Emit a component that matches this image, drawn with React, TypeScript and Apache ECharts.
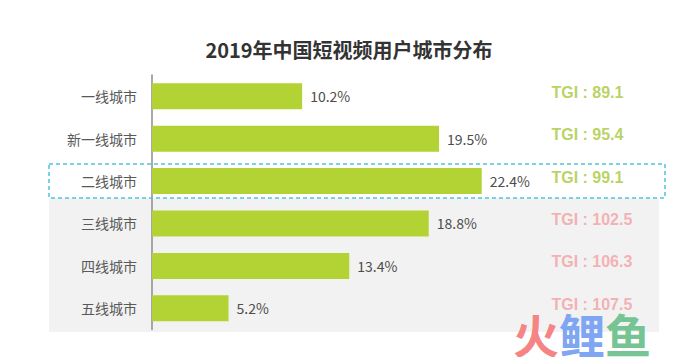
import React, { useEffect, useRef } from "react";
import * as echarts from "echarts";

const categories: string[] = ["一线城市", "新一线城市", "二线城市", "三线城市", "四线城市", "五线城市"];
const shares: number[] = [10.2, 19.5, 22.4, 18.8, 13.4, 5.2];
const tgiValues: number[] = [89.1, 95.4, 99.1, 102.5, 106.3, 107.5];
const titleText = "2019年中国短视频用户城市分布";

const FONT = '"Microsoft YaHei", "Noto Sans CJK SC", "Noto Sans", sans-serif';
const BAR = "#b3d334";
const TGI_GREEN = "#a6c73a";
const TGI_PINK = "#f2a0a4";

export default function App() {
  const ref = useRef<HTMLDivElement>(null);
  useEffect(() => {
    if (!ref.current) return;
    const chart = echarts.init(ref.current, null, { renderer: "svg" });
    const option: any = {
      animation: false,
      backgroundColor: "#ffffff",
      textStyle: { fontFamily: FONT },
      grid: { left: 152, top: 75, width: 441.6, height: 254.5, containLabel: false },
      xAxis: {
        type: "value",
        min: 0,
        max: 30,
        show: false,
        splitLine: { show: false },
      },
      yAxis: {
        type: "category",
        data: categories,
        inverse: true,
        axisLine: { show: true, lineStyle: { color: "#8c8c8c", width: 1.5 } },
        axisTick: { show: false },
        axisLabel: { fontSize: 14, color: "#595959", margin: 15, fontFamily: FONT },
        splitLine: { show: false },
      },
      graphic: [
        {
          type: "rect",
          z: -10,
          shape: { x: 49, y: 198, width: 610, height: 134 },
          style: { fill: "#f2f2f2" },
        },
        {
          type: "rect",
          z: 10,
          shape: { x: 49, y: 164, width: 616, height: 34 },
          style: { fill: "none", stroke: "#4fc3dc", lineWidth: 1.5, lineDash: [4, 3] },
        },
        {
          type: "text",
          style: {
            text: titleText,
            x: 349,
            y: 49,
            textAlign: "center",
            textVerticalAlign: "middle",
            fontSize: 20,
            fontWeight: "bold",
            fill: "#333333",
            fontFamily: FONT,
          },
        },
        {
          type: "text",
          z: 20,
          style: {
            text: "{a|火}{b|鲤}{c|鱼}",
            x: 513,
            y: 333,
            textVerticalAlign: "middle",
            fontFamily: FONT,
            rich: {
              a: { fontSize: 46, lineHeight: 40, fontWeight: "bold", fill: "#f58585", fontFamily: FONT },
              b: { fontSize: 46, lineHeight: 40, fontWeight: "bold", fill: "#7fa6f2", fontFamily: FONT },
              c: { fontSize: 46, lineHeight: 40, fontWeight: "bold", fill: "#76c493", fontFamily: FONT },
            },
          },
        },
      ],
      series: [
        {
          type: "bar",
          data: shares,
          barWidth: 26,
          itemStyle: { color: BAR },
          label: {
            show: true,
            position: "right",
            distance: 8,
            formatter: (p: any) => `${p.value}%`,
            fontSize: 14,
            color: "#4d4d4d",
            fontFamily: FONT,
          },
        },
        {
          type: "scatter",
          data: tgiValues.map((v, i) => ({
            value: [27.1, categories[i], v],
            label: { color: v < 100 ? TGI_GREEN : TGI_PINK },
          })),
          symbolSize: 1,
          itemStyle: { color: "rgba(0,0,0,0)" },
          label: {
            show: true,
            position: "right",
            distance: 0,
            offset: [0, -4],
            lineHeight: 16,
            formatter: (p: any) => `TGI : ${p.value[2]}`,
            fontSize: 16,
            fontWeight: "bold",
            fontFamily: '"Liberation Sans", Arial, sans-serif',
          },
        },
      ],
    };
    chart.setOption(option);
    return () => chart.dispose();
  }, []);
  return (
    <div
      ref={ref}
      style={{ position: "fixed", left: 0, top: 0, width: 681, height: 357 }}
    />
  );
}
